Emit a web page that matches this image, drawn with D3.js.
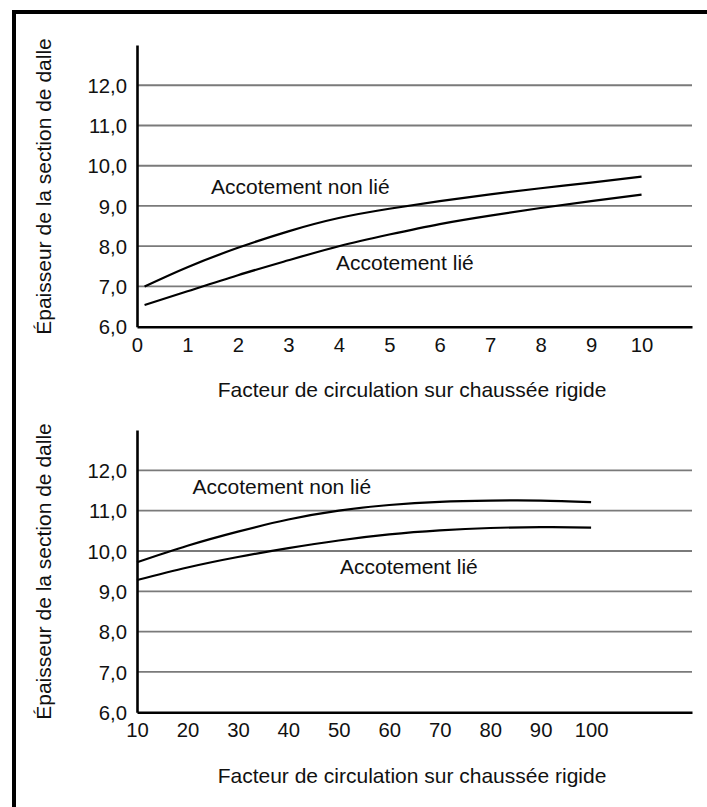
<!DOCTYPE html>
<html>
<head>
<meta charset="utf-8">
<script src="https://cdn.jsdelivr.net/npm/d3@7"></script>
<style>
html,body{margin:0;padding:0;background:#fff;}
svg text{font-family:"Liberation Sans",Arial,sans-serif;fill:#111;}
</style>
</head>
<body>
<svg id="c" width="707" height="807"></svg>
<script>
// ---- data ----
const yTicks = [6, 7, 8, 9, 10, 11, 12];
const topXTicks = [0, 1, 2, 3, 4, 5, 6, 7, 8, 9, 10];
const botXTicks = [10, 20, 30, 40, 50, 60, 70, 80, 90, 100];

const topX = [0.15, 1, 2, 3, 4, 5, 6, 7, 8, 9, 10];
const topNonLie = [7.0, 7.48, 7.96, 8.37, 8.70, 8.93, 9.12, 9.29, 9.44, 9.58, 9.73];
const topLie = [6.54, 6.88, 7.28, 7.65, 8.0, 8.29, 8.55, 8.76, 8.95, 9.12, 9.28];

const botX = [10, 20, 30, 40, 50, 60, 70, 80, 90, 100];
const botNonLie = [9.72, 10.13, 10.48, 10.78, 11.0, 11.14, 11.22, 11.25, 11.25, 11.21];
const botLie = [9.28, 9.59, 9.85, 10.07, 10.26, 10.41, 10.51, 10.57, 10.59, 10.58];

const yTitle = "Épaisseur de la section de dalle";
const xTitle = "Facteur de circulation sur chaussée rigide";
const labelNonLie = "Accotement non lié";
const labelLie = "Accotement lié";

const svg = d3.select("#c");

// outer frame
svg.append("rect").attr("x", 14).attr("y", 12).attr("width", 720).attr("height", 820)
  .attr("fill", "none").attr("stroke", "#000").attr("stroke-width", 4);

const fmt = d => d.toFixed(1).replace(".", ",");

function panel(opt) {
  const x = d3.scaleLinear().domain(opt.xDomain).range([137, 692]);
  const y = d3.scaleLinear().domain([6, 13]).range([opt.y0, opt.yTop]);
  const g = svg.append("g");

  // gridlines
  g.selectAll(".grid").data(yTicks.filter(d => d > 6)).enter().append("line")
    .attr("x1", x.range()[0]).attr("x2", x.range()[1])
    .attr("y1", d => y(d)).attr("y2", d => y(d))
    .attr("stroke", "#7a7a7a").attr("stroke-width", 1.8);

  // y axis
  const ya = d3.axisLeft(y).tickValues(yTicks).tickFormat(fmt).tickSize(0).tickPadding(10);
  const yg = g.append("g").attr("transform", `translate(${x.range()[0]},0)`).call(ya);
  yg.select(".domain").attr("stroke", "#000").attr("stroke-width", 2.6);
  yg.selectAll("text").attr("font-size", 20.3).attr("dy", "0.35em").attr("x", -10)
    .style("font-family", '"Liberation Sans",Arial,sans-serif').attr("fill", "#111");

  // x axis
  const xa = d3.axisBottom(x).tickValues(opt.xTicks).tickFormat(d => d).tickSize(0).tickPadding(0);
  const xg = g.append("g").attr("transform", `translate(0,${opt.y0})`).call(xa);
  xg.select(".domain").attr("stroke", "#000").attr("stroke-width", 2.6);
  xg.selectAll("text").attr("font-size", 20.3).attr("dy", null).attr("y", opt.xTickBase)
    .style("font-family", '"Liberation Sans",Arial,sans-serif').attr("fill", "#111");

  // curves
  const line = d3.line().x(d => x(d[0])).y(d => y(d[1])).curve(d3.curveNatural);
  [opt.nonLie, opt.lie].forEach(s => {
    g.append("path").datum(opt.xs.map((v, i) => [v, s[i]]))
      .attr("d", line).attr("fill", "none").attr("stroke", "#000").attr("stroke-width", 2.2);
  });

  // labels
  g.append("text").attr("x", opt.l1[0]).attr("y", opt.l1[1]).attr("font-size", 21).text(labelNonLie);
  g.append("text").attr("x", opt.l2[0]).attr("y", opt.l2[1]).attr("font-size", 21).text(labelLie);

  // titles
  g.append("text").attr("x", 412).attr("y", opt.xTitleY).attr("text-anchor", "middle")
    .attr("font-size", 21).text(xTitle);
  g.append("text").attr("transform", `translate(51,${opt.yTitleC}) rotate(-90)`)
    .attr("text-anchor", "middle").attr("font-size", 21).text(yTitle);
}

panel({
  xDomain: [0, 11], y0: 326.7, yTop: 45, xTicks: topXTicks, xTickBase: 25.5,
  xs: topX, nonLie: topNonLie, lie: topLie,
  l1: [211, 194.3], l2: [336, 270], xTitleY: 397.3, yTitleC: 186.5
});
panel({
  xDomain: [10, 120], y0: 712.3, yTop: 430, xTicks: botXTicks, xTickBase: 24.7,
  xs: botX, nonLie: botNonLie, lie: botLie,
  l1: [192.5, 494.3], l2: [340, 574.3], xTitleY: 783, yTitleC: 571.5
});
</script>
</body>
</html>
